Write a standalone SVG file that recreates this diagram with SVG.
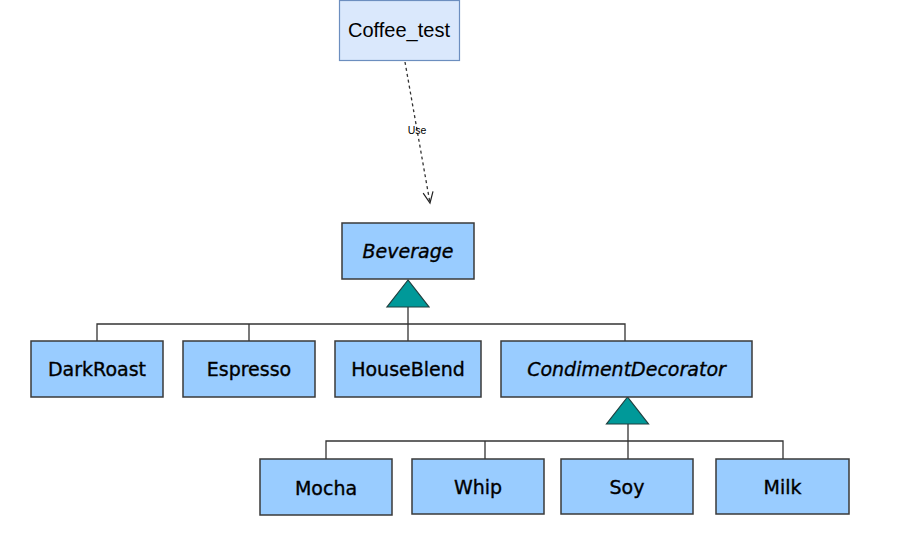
<svg xmlns="http://www.w3.org/2000/svg" width="919" height="541" viewBox="0 0 919 541">
<defs>
<style>
.cls rect{fill:#99ccff;stroke:#3a3a3a;stroke-width:1.5}
.cls text{font-family:"DejaVu Sans",Verdana,sans-serif;font-size:19px;fill:#000;stroke:#000;stroke-width:0.35;text-anchor:middle}
.abs text{font-style:italic}
.ln{fill:none;stroke:#333;stroke-width:1.3}
.tri{fill:#009999;stroke:#1f3f3f;stroke-width:1.2}
</style>
<marker id="open" markerWidth="14" markerHeight="14" refX="12" refY="6" orient="auto" markerUnits="userSpaceOnUse">
<path d="M1,1 L12,6 L1,11" fill="none" stroke="#222" stroke-width="1.2"/>
</marker>
</defs>
<rect width="919" height="541" fill="#ffffff"/>
<g id="connectors">
<path class="ln" d="M405,62 L430,203" stroke-dasharray="3,3" stroke="#222" marker-end="url(#open)"/>
<text x="417" y="134" font-family="Liberation Sans, Arial, sans-serif" font-size="10.5" text-anchor="middle" fill="#000">Use</text>
<path class="ln" d="M97,341 V324 H625 V341 M249,324 V341 M408,307 V341"/>
<polygon class="tri" points="408,280 387,307 429,307"/>
<path class="ln" d="M326,459 V441 H783 V459 M485,441 V459 M628,424 V459"/>
<polygon class="tri" points="627.5,397 606.5,424 648.5,424"/>
</g>
<g id="coffee_test">
<rect x="339.5" y="0.5" width="120" height="60" fill="#dae8fc" stroke="#6c8ebf" stroke-width="1.2"/>
<text x="399" y="37" font-family="Liberation Sans, Arial, sans-serif" font-size="20" text-anchor="middle" fill="#000">Coffee_test</text>
</g>
<g id="beverage" class="cls abs">
<rect x="342" y="223" width="132" height="56"/>
<text x="408" y="258">Beverage</text>
</g>
<g id="darkroast" class="cls">
<rect x="31" y="341" width="132" height="56"/>
<text x="97" y="376">DarkRoast</text>
</g>
<g id="espresso" class="cls">
<rect x="183" y="341" width="132" height="56"/>
<text x="249" y="376">Espresso</text>
</g>
<g id="houseblend" class="cls">
<rect x="335" y="341" width="146" height="56"/>
<text x="408" y="376">HouseBlend</text>
</g>
<g id="condimentdecorator" class="cls abs">
<rect x="501" y="341" width="251" height="56"/>
<text x="626.5" y="376">CondimentDecorator</text>
</g>
<g id="mocha" class="cls">
<rect x="260" y="459" width="132" height="56"/>
<text x="326" y="495">Mocha</text>
</g>
<g id="whip" class="cls">
<rect x="412" y="459" width="132" height="55"/>
<text x="478" y="494">Whip</text>
</g>
<g id="soy" class="cls">
<rect x="561" y="459" width="132" height="55"/>
<text x="627" y="494">Soy</text>
</g>
<g id="milk" class="cls">
<rect x="716" y="459" width="133" height="55"/>
<text x="782.5" y="494">Milk</text>
</g>
</svg>
